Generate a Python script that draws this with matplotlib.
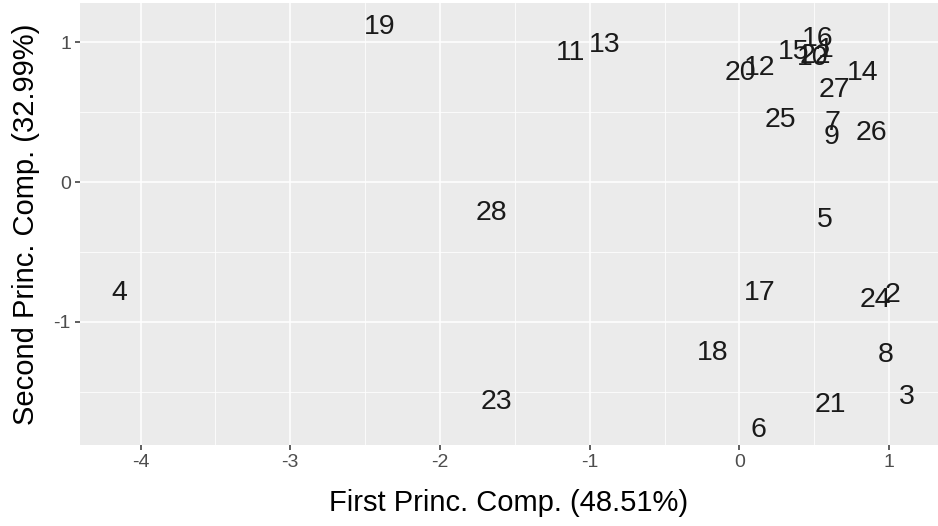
import matplotlib
matplotlib.use("Agg")
import matplotlib.pyplot as plt
from matplotlib.ticker import MultipleLocator

# Scores of the 28 observations on the first two principal components
labels = [str(i) for i in range(1, 29)]
pc1 = [0.579, 1.026, 1.12, -4.14, 0.572, 0.125, 0.625, 0.98, 0.618, 0.491,
       -1.13, 0.137, -0.897, 0.826, 0.36, 0.52, 0.137, -0.176, -2.40, 0.01,
       0.606, 0.505, -1.62, 0.91, 0.272, 0.88, 0.638, -1.658]
pc2 = [0.943, -0.807, -1.536, -0.793, -0.271, -1.771, 0.421, -1.236, 0.321, 0.886,
       0.921, 0.814, 0.979, 0.779, 0.93, 1.02, -0.793, -1.221, 1.107, 0.779,
       -1.593, 0.9, -1.571, -0.843, 0.443, 0.35, 0.657, -0.221]

x_ticks = [-4, -3, -2, -1, 0, 1]
y_ticks = [-1, 0, 1]
x_title = "First Princ. Comp. (48.51%)"
y_title = "Second Princ. Comp. (32.99%)"

plt.rcParams["font.family"] = ["Liberation Sans", "DejaVu Sans"]

fig = plt.figure(figsize=(9.38, 5.26), dpi=100)
ax = fig.add_axes([80 / 938, 81 / 526, 858 / 938, 442 / 526])
ax.set_facecolor("#EBEBEB")
for s in ax.spines.values():
    s.set_visible(False)

ax.set_xlim(-4.405, 1.327)
ax.set_ylim(-1.88, 1.28)
ax.set_xticks(x_ticks)
ax.set_yticks(y_ticks)
ax.set_xticklabels([str(v) for v in x_ticks])
ax.set_yticklabels([str(v) for v in y_ticks])
ax.xaxis.set_minor_locator(MultipleLocator(0.5))
ax.yaxis.set_minor_locator(MultipleLocator(0.5))
ax.grid(which="major", color="white", linewidth=1.1)
ax.grid(which="minor", color="white", linewidth=0.55)
ax.set_axisbelow(True)
ax.tick_params(which="major", length=3.5, width=1.1, color="#333333",
               labelcolor="#4D4D4D", labelsize=14, pad=3)
ax.tick_params(which="minor", length=0)

for lab, x, y in zip(labels, pc1, pc2):
    ax.text(x, y, lab, ha="center", va="center", fontsize=20.5, color="#1A1A1A")

ax.set_xlabel(x_title, fontsize=21, color="black", labelpad=13)
ax.set_ylabel(y_title, fontsize=21, color="black", labelpad=10)

fig.savefig("out.png", dpi=100)
